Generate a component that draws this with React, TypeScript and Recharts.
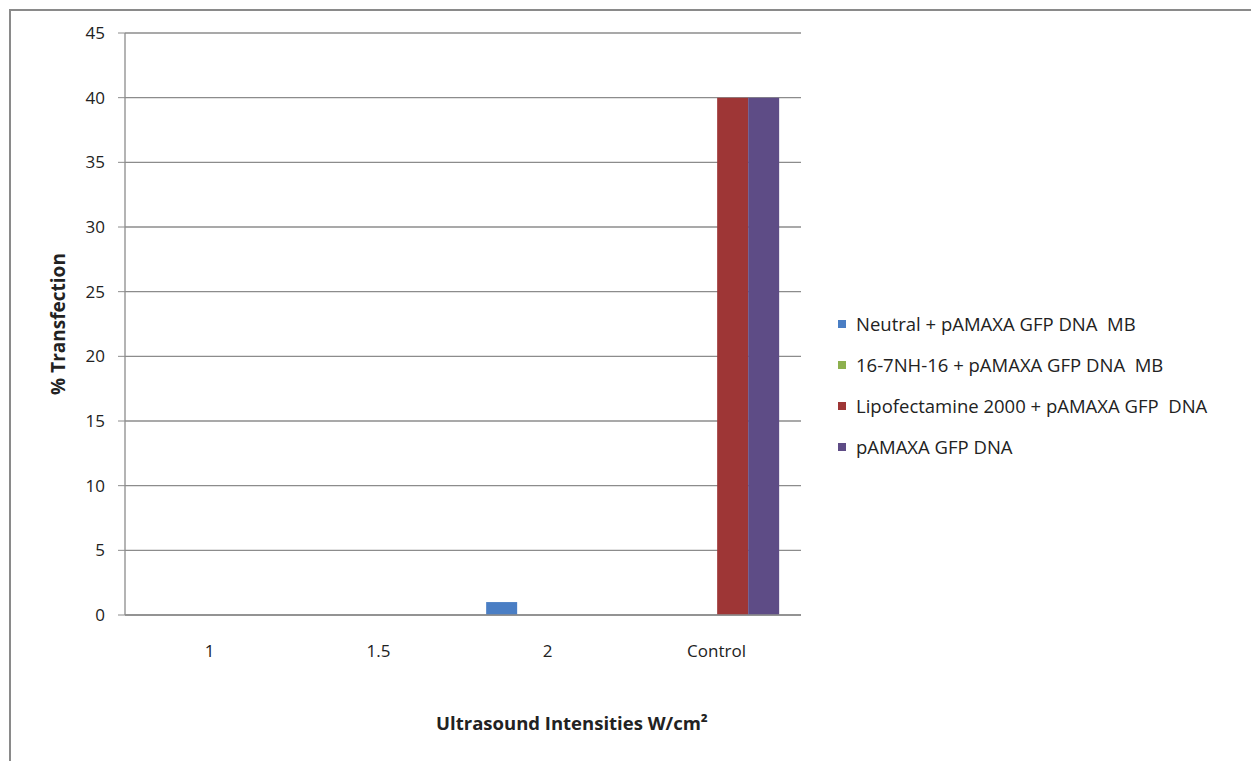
import { BarChart, Bar, XAxis, YAxis, CartesianGrid, Legend, Label } from "recharts"

const intensities = ["1", "1.5", "2", "Control"]

const neutralMB = [0, 0, 1, 0]
const gemini16MB = [0, 0, 0, 0]
const lipofectamine = [0, 0, 0, 40]
const nakedDNA = [0, 0, 0, 40]

const yTicks = [0, 5, 10, 15, 20, 25, 30, 35, 40, 45]

const series = [
  { key: "neutral", name: "Neutral + pAMAXA GFP DNA  MB", color: "#4A7EC4", values: neutralMB },
  { key: "gemini", name: "16-7NH-16 + pAMAXA GFP DNA  MB", color: "#8DB04E", values: gemini16MB },
  { key: "lipo", name: "Lipofectamine 2000 + pAMAXA GFP  DNA", color: "#9E3636", values: lipofectamine },
  { key: "dna", name: "pAMAXA GFP DNA", color: "#5E4C86", values: nakedDNA },
]

const data = intensities.map((label, i) => {
  const row: Record<string, string | number> = { label }
  series.forEach((s) => {
    row[s.key] = s.values[i]
  })
  return row
})

const font = "'Open Sans', 'Noto Sans', sans-serif"

function LegendBox() {
  return (
    <div style={{ fontFamily: font, fontSize: 18.5, color: "#222" }}>
      {series.map((s) => (
        <div key={s.key} style={{ display: "flex", alignItems: "center", height: 41 }}>
          <span style={{ width: 8, height: 8, background: s.color, marginRight: 10 }} />
          <span style={{ whiteSpace: "pre" }}>{s.name}</span>
        </div>
      ))}
    </div>
  )
}

export default function App() {
  return (
    <div style={{ position: "absolute", left: 0, top: 0, width: 1251, height: 761, background: "#fff" }}>
      <div
        style={{
          position: "absolute",
          left: 9,
          top: 9,
          width: 1260,
          height: 780,
          border: "2px solid #8a8a8a",
          boxSizing: "border-box",
        }}
      />
      <BarChart
        width={1251}
        height={761}
        data={data}
        margin={{ top: 33, right: 450, bottom: 16, left: 65 }}
        barCategoryGap="13.7%"
        barGap={0}
      >
        <CartesianGrid vertical={false} stroke="#8c8c8c" strokeWidth={1.3} />
        <XAxis
          dataKey="label"
          height={130}
          axisLine={{ stroke: "#8c8c8c", strokeWidth: 1.3 }}
          tickLine={false}
          tickMargin={24}
          tick={{ fill: "#222", fontSize: 17, fontFamily: font }}
        >
          <Label
            value="Ultrasound Intensities W/cm²"
            position="insideBottom"
            dx={109}
            dy={-10}
            style={{ fill: "#222", fontSize: 18.5, fontWeight: 700, fontFamily: font }}
          />
        </XAxis>
        <YAxis
          width={60}
          domain={[0, 45]}
          ticks={yTicks}
          interval={0}
          axisLine={{ stroke: "#8c8c8c", strokeWidth: 1.3 }}
          tickLine={{ stroke: "#8c8c8c" }}
          tickSize={7}
          tickMargin={13}
          tick={{ fill: "#222", fontSize: 17, fontFamily: font }}
        >
          <Label
            value="% Transfection"
            angle={-90}
            position="insideLeft"
            dx={-12}
            style={{ fill: "#222", fontSize: 19, fontWeight: 700, fontFamily: font, textAnchor: "middle" }}
          />
        </YAxis>
        <Legend
          layout="vertical"
          align="center"
          verticalAlign="middle"
          wrapperStyle={{ left: 838, top: 303, width: 410 }}
          content={() => <LegendBox />}
        />
        {series.map((s) => (
          <Bar key={s.key} dataKey={s.key} name={s.name} fill={s.color} isAnimationActive={false} />
        ))}
      </BarChart>
    </div>
  )
}
